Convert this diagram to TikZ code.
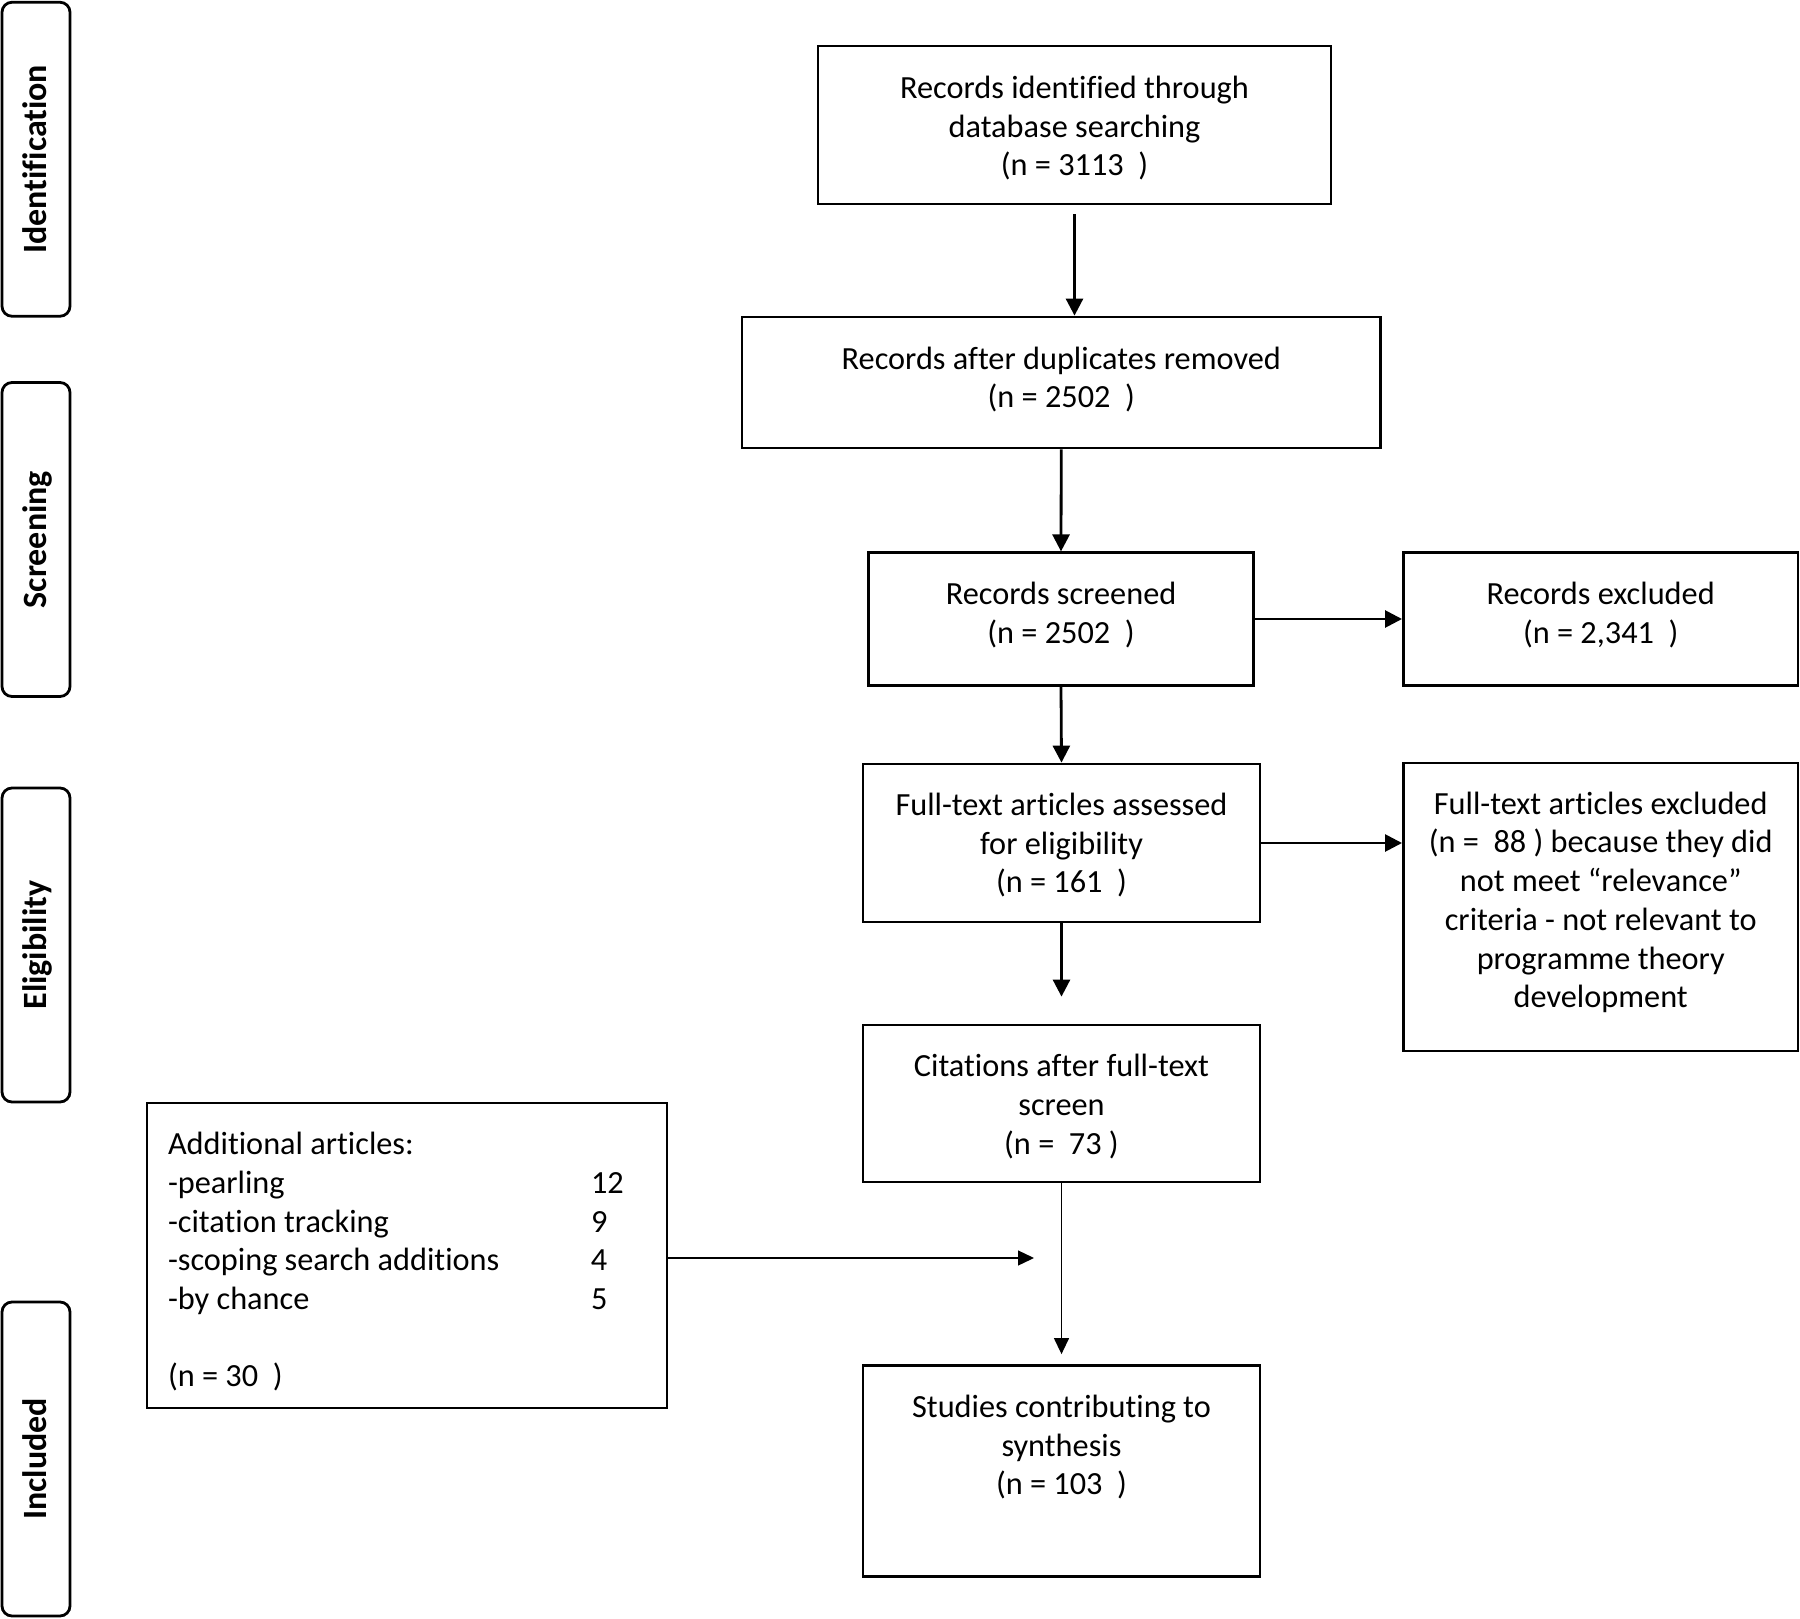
\documentclass[tikz,border=0pt]{standalone}
\usepackage{fontspec}
\setmainfont{Carlito}[Ligatures=CommonOff]
\usetikzlibrary{arrows.meta}
\newcommand{\sA}[1]{\rule{0pt}{\dimexpr40pt+#1pt\relax}}
\newcommand{\sB}[1]{\rule[\dimexpr-18pt+#1pt\relax]{0pt}{0pt}}
\newcommand{\lbl}[1]{\rule[-8pt]{0pt}{36pt}#1}
\begin{document}
\begin{tikzpicture}[x=1pt,y=-1pt,
  txt/.style={font=\fontsize{32.3}{38.7}\selectfont},
  box/.style={txt, draw, line width=2.8pt, rectangle, inner sep=0pt, align=center},
  side/.style={draw, line width=2.8pt, rounded corners=10pt, rotate=90, minimum width=314pt, minimum height=68pt, inner sep=0pt, font=\fontsize{34}{40}\selectfont\bfseries},
  arr/.style={line width=2.8pt, -{Triangle[length=17pt,width=17pt]}},
  thinarr/.style={line width=1.3pt, -{Triangle[length=16pt,width=15pt]}}
]
\useasboundingbox (0,0) rectangle (1800,1619);

% phase labels
\node[side] (sid) at (36,159.25) {\lbl{Identification}};
\node[side] (sscr) at (36,539.5) {\lbl{Screening}};
\node[side] (selig) at (36,945) {\lbl{Eligibility}};
\node[side] (sinc) at (36,1459) {\lbl{Included}};

% boxes
\node[box, minimum width=513pt, minimum height=158pt] (b1) at (1074.5,125)
  {\sA{1}Records identified through\\database searching\\(n = 3113\ \ )\sB{1}};
\node[box, minimum width=638.5pt, minimum height=131pt] (b2) at (1061.25,382.5)
  {\sA{-5}Records after duplicates removed\\(n = 2502\ \ )\sB{-5}};
\node[box, minimum width=385pt, minimum height=132.4pt] (b3) at (1061,619)
  {\sA{-6}Records screened\\(n = 2502\ \ )\sB{-6}};
\node[box, minimum width=394.6pt, minimum height=132.4pt] (b4) at (1600.7,619)
  {\sA{-6}Records excluded\\(n = 2,341\ \ )\sB{-6}};
\node[box, minimum width=397pt, minimum height=158pt] (b5) at (1061.5,843)
  {\sA{0}Full-text articles assessed\\for eligibility\\(n = 161\ \ )\sB{0}};
\node[box, minimum width=394.6pt, minimum height=288pt] (b6) at (1600.7,907)
  {\sA{-7}Full-text articles excluded\\(n = \ 88 ) because they did\\not meet “relevance”\\criteria - not relevant to\\programme theory\\development\sB{-7}};
\node[box, minimum width=397pt, minimum height=157pt] (b7) at (1061.5,1103.5)
  {\sA{1}Citations after full-text\\screen\\(n = \ 73 )\sB{1}};
\node[box, line width=2.5pt, minimum width=520pt, minimum height=305pt] (b8) at (407,1255.5)
  {\begin{tabular}{@{}p{423pt}@{}p{55pt}@{}}
   \rule{0pt}{42pt}Additional articles: & \\
   -pearling & 12\\
   -citation tracking & 9\\
   -scoping search additions & 4\\
   -by chance & 5\\
   & \\
   (n = 30\ \ ) &
   \end{tabular}};
\node[box, minimum width=397pt, minimum height=211pt] (b9) at (1061.5,1471) {};
\node[txt, align=center] (b9t) at (1061.5,1447.3)
  {Studies contributing to\\synthesis\\(n = 103\ \ )};

% connectors
\draw[arr, shorten <=9pt] (b1.south) -- (b1.south |- b2.north);
\draw[arr] (b2.south) -- (b3.north);
\draw[arr] (b3.east) -- (b4.west);
\draw[arr] (b3.south) -- (b5.north);
\draw[arr] (b5.east) -- (b5.east -| b6.west);
\draw[arr, shorten >=27pt] (b5.south) -- (b7.north);
\draw[thinarr, shorten >=10pt] (b7.south) -- (b9.north);
\coordinate (j) at (1034,1258);
\draw[thinarr] (b8.east |- j) -- (j);
\end{tikzpicture}
\end{document}
